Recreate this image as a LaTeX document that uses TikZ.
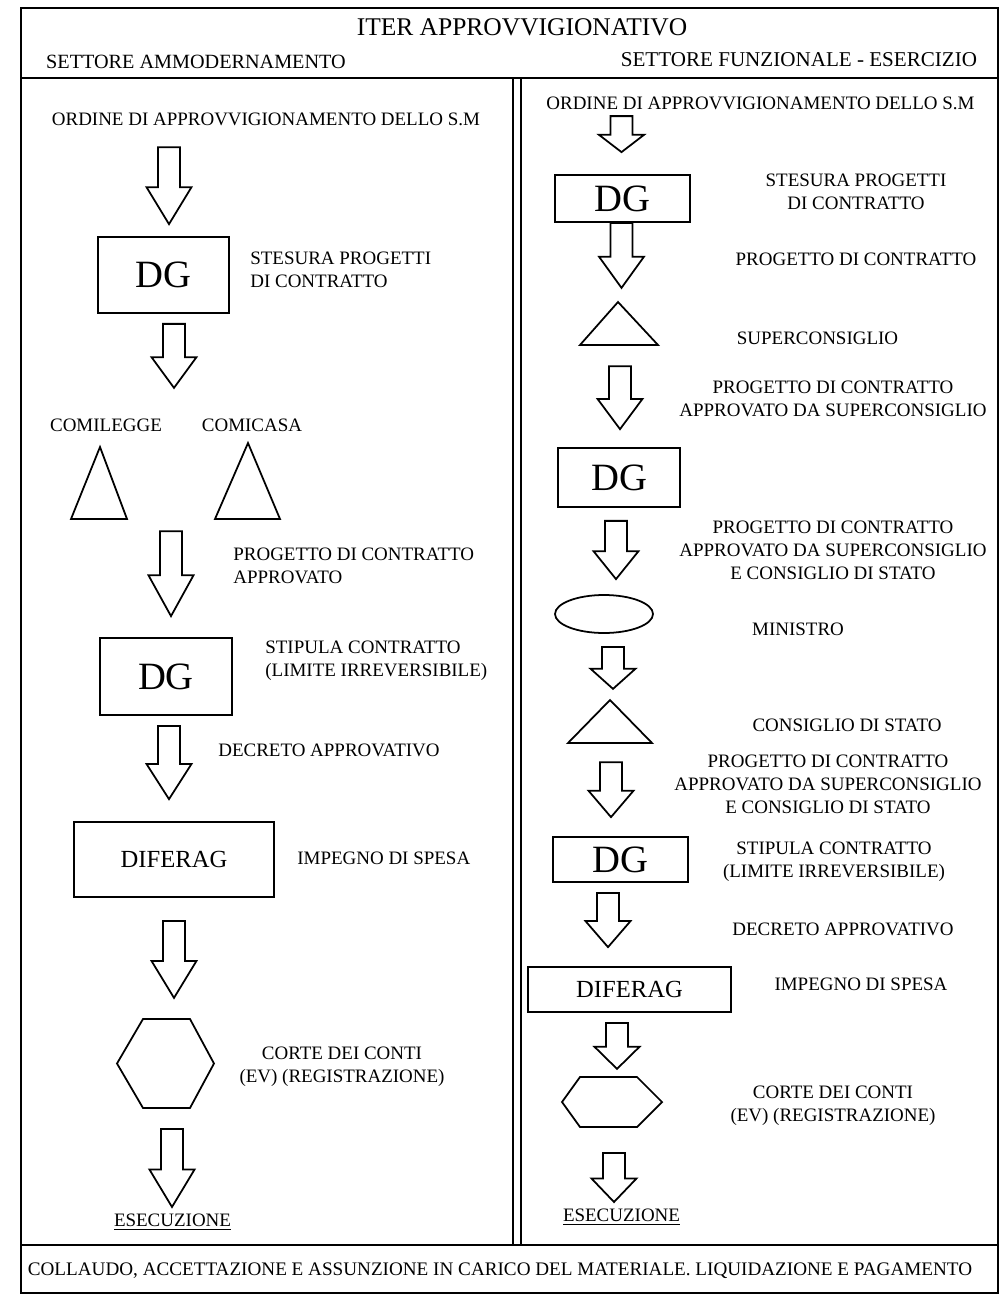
\documentclass[tikz,border=0pt]{standalone}
\usepackage{fontspec}
\setmainfont{Liberation Serif}
\usepackage{tikz}
\usetikzlibrary{calc,shapes.geometric}

\begin{document}
\begin{tikzpicture}[x=0.02cm, y=-0.02cm,
  lbl/.style = {inner sep=0pt, align=left, font=\fontsize{10.8}{13}\selectfont},
  clbl/.style = {lbl, align=center},
  box/.style = {draw, line width=1pt, inner sep=0pt},
  dg/.style = {box, font=\fontsize{22}{26}\selectfont},
  dif/.style = {box, font=\fontsize{14}{17}\selectfont},
  shp/.style = {draw, line width=1pt, line join=miter},
  frame/.style = {draw, line width=1.2pt},
  flow/.style = {draw, line width=1pt, line join=miter, to path={
    let \p1=(\tikztostart), \p2=(\tikztotarget) in
    (\x1-0.22cm,\y1) -- (\x1+0.22cm,\y1) -- (\x1+0.22cm,{\y1+0.52*(\y2-(\y1))})
    -- (\x1+0.45cm,{\y1+0.52*(\y2-(\y1))}) -- (\x1,\y2)
    -- (\x1-0.45cm,{\y1+0.52*(\y2-(\y1))}) -- (\x1-0.22cm,{\y1+0.52*(\y2-(\y1))}) -- cycle}}
  ]
\useasboundingbox (0,0) rectangle (1005,1301);

% cornice
\draw[frame] (21,8) rectangle (998,1293);
\draw[frame] (21,78) -- (998,78) (21,1245) -- (998,1245);
\draw[frame] (513,78) -- (513,1245) (521,78) -- (521,1245);

% intestazione
\node[lbl, font=\fontsize{14.5}{17}\selectfont] (titolo) at (522,27) {ITER APPROVVIGIONATIVO};
\node[lbl, font=\fontsize{11.5}{14}\selectfont] (settA) at (196,62) {SETTORE AMMODERNAMENTO};
\node[lbl, font=\fontsize{12}{14}\selectfont] (settF) at (799,60) {SETTORE FUNZIONALE - ESERCIZIO};

% settore ammodernamento
\node[lbl] (ordA) at (266,119) {ORDINE DI APPROVVIGIONAMENTO DELLO S.M};
\node[dg, minimum width=2.62cm, minimum height=1.52cm] (dgA1) at (163.5,275) {DG};
\node[lbl, anchor=west] (stesA) at (250,270) {STESURA PROGETTI\\DI CONTRATTO};
\node[lbl] (comil) at (106,425) {COMILEGGE};
\node[lbl] (comic) at (252,425) {COMICASA};
\draw[shp] (100,447) -- (127,519) -- (71,519) -- cycle;
\draw[shp] (248,443) -- (280,519) -- (215,519) -- cycle;
\node[lbl, anchor=west] (progA) at (233,566) {PROGETTO DI CONTRATTO\\APPROVATO};
\node[dg, minimum width=2.64cm, minimum height=1.54cm] (dgA2) at (166,676.5) {DG};
\node[lbl, anchor=west] (stipA) at (265,661) {STIPULA CONTRATTO\\(LIMITE IRREVERSIBILE)};
\node[lbl, anchor=west] (decrA) at (218,750) {DECRETO APPROVATIVO};
\node[dif, minimum width=4cm, minimum height=1.5cm] (difA) at (174,859.5) {DIFERAG};
\node[lbl, anchor=west] (impA) at (297,858) {IMPEGNO DI SPESA};
\coordinate (hexA) at (165.5,1063.5);
\draw[shp] (117,1063.5) -- (143,1019) -- (190,1019) -- (214,1063.5) -- (190,1108) -- (143,1108) -- cycle;
\node[clbl] (corteA) at (342,1067) {CORTE DEI CONTI\\(EV) (REGISTRAZIONE)};
\node[lbl] (eseA) at (172.5,1222) {\underline{ESECUZIONE}};

\draw[flow] ($(dgA1.north)+(5.5,-89)$) to ($(dgA1.north)+(5.5,-12)$);
\draw[flow] ($(dgA1.south)+(10.5,10)$) to ($(dgA1.south)+(10.5,74)$);
\draw[flow] ($(dgA2.north)+(5,-106)$) to ($(dgA2.north)+(5,-21)$);
\draw[flow] ($(dgA2.south)+(3,10)$) to ($(difA.north)+(0,-22)$);
\draw[flow] ($(difA.south)+(0,23)$) to ($(difA.south)+(0,100)$);
\draw[flow] ($(hexA)+(6.5,65.5)$) to ($(hexA)+(6.5,143.5)$);

% settore funzionale - esercizio
\node[lbl] (ordF) at (760.5,103) {ORDINE DI APPROVVIGIONAMENTO DELLO S.M};
\node[dg, minimum width=2.7cm, minimum height=0.94cm] (dgF1) at (622.5,198.5) {DG};
\node[clbl] (stesF) at (856,192) {STESURA PROGETTI\\DI CONTRATTO};
\node[lbl] (progF) at (856,259) {PROGETTO DI CONTRATTO};
\draw[shp] (618,302) -- (658,345) -- (580,345) -- cycle;
\node[lbl] (superF) at (817.5,338) {SUPERCONSIGLIO};
\node[clbl] (appF1) at (833,398.5) {PROGETTO DI CONTRATTO\\APPROVATO DA SUPERCONSIGLIO};
\node[dg, minimum width=2.44cm, minimum height=1.18cm] (dgF2) at (619,477.5) {DG};
\node[clbl] (appF2) at (833,550) {PROGETTO DI CONTRATTO\\APPROVATO DA SUPERCONSIGLIO\\E CONSIGLIO DI STATO};
\node[draw, ellipse, line width=1pt, minimum width=1.96cm, minimum height=0.76cm, inner sep=0pt] (minF) at (604,614) {};
\node[lbl] (ministro) at (798,629) {MINISTRO};
\draw[shp] (610,700) -- (652,743) -- (568,743) -- cycle;
\node[lbl] (cdsF) at (847,725) {CONSIGLIO DI STATO};
\node[clbl] (appF3) at (828,784) {PROGETTO DI CONTRATTO\\APPROVATO DA SUPERCONSIGLIO\\E CONSIGLIO DI STATO};
\node[dg, minimum width=2.7cm, minimum height=0.9cm] (dgF3) at (620.5,859.5) {DG};
\node[clbl] (stipF) at (834,862) {STIPULA CONTRATTO\\(LIMITE IRREVERSIBILE)};
\node[lbl] (decrF) at (843,929) {DECRETO APPROVATIVO};
\node[dif, minimum width=4.06cm, minimum height=0.9cm] (difF) at (629.5,989.5) {DIFERAG};
\node[lbl] (impF) at (861,984) {IMPEGNO DI SPESA};
\coordinate (hexF) at (612,1102);
\draw[shp] (562,1102) -- (580,1077) -- (637,1077) -- (662,1102) -- (637,1127) -- (580,1127) -- cycle;
\node[clbl] (corteF) at (833,1106) {CORTE DEI CONTI\\(EV) (REGISTRAZIONE)};
\node[lbl] (eseF) at (621.5,1217) {\underline{ESECUZIONE}};

\draw[flow] ($(dgF1.north)+(-1,-58)$) to ($(dgF1.north)+(-1,-22)$);
\draw[flow] ($(dgF1.south)+(-1,0)$) to ($(dgF1.south)+(-1,65)$);
\draw[flow] ($(dgF2.north)+(1,-81)$) to ($(dgF2.north)+(1,-18)$);
\draw[flow] ($(dgF2.south)+(-3,13)$) to ($(minF.north)+(0,-15)$);
\draw[flow] ($(minF.south)+(9,13)$) to ($(minF.south)+(9,55)$);
\draw[flow] ($(dgF3.north)+(-9.5,-74)$) to ($(dgF3.north)+(-9.5,-19)$);
\draw[flow] ($(dgF3.south)+(-12.5,10)$) to ($(difF.north)+(0,-19)$);
\draw[flow] ($(difF.south)+(-12.5,10)$) to ($(difF.south)+(-12.5,56)$);
\draw[flow] ($(hexF)+(2,51)$) to ($(hexF)+(2,100)$);

% collaudo
\node[lbl, font=\fontsize{10.9}{13}\selectfont] (collaudo) at (500,1271) {COLLAUDO, ACCETTAZIONE E ASSUNZIONE IN CARICO DEL MATERIALE. LIQUIDAZIONE E PAGAMENTO};
\end{tikzpicture}
\end{document}
